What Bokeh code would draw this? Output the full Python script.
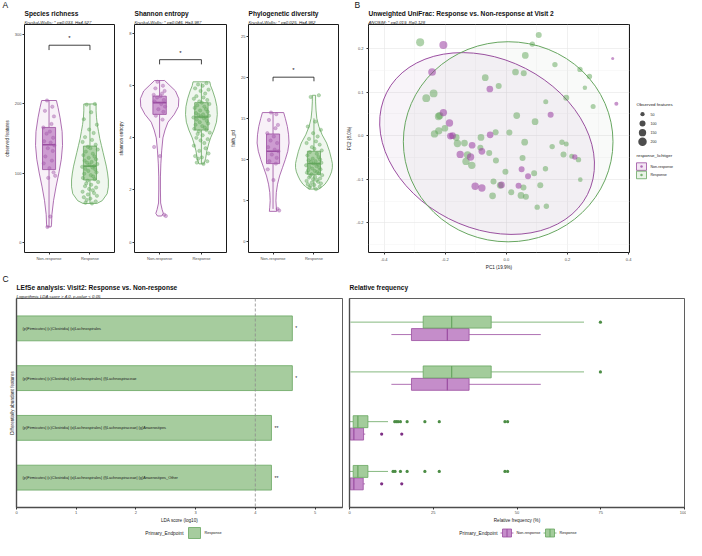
import numpy as np
from bokeh.plotting import figure
from bokeh.models import Range1d, FixedTicker, Title, Span, PrintfTickFormatter
from bokeh.layouts import row, column
from bokeh.embed import file_html
from bokeh.resources import INLINE
from bokeh.core.properties import value

FONT = "Liberation Sans"

# ---------------- Panel A data ----------------
groups = ["Non-response", "Response"]

sr_nr_pts = [205, 196, 190, 182, 171, 166, 160, 157, 151, 146, 144, 140, 136, 132, 124, 118, 114, 107, 101, 96, 93, 37, 22]
sr_r_pts = [200, 199, 188, 178, 170, 163, 158, 152, 148, 145, 141, 138, 136, 134, 131, 128, 126, 124, 122, 120,
            118, 116, 115, 113, 112, 110, 109, 108, 106, 105, 103, 101, 99, 97, 95, 93, 91, 89, 87, 85,
            83, 81, 79, 77, 75, 73, 71, 69, 67, 65, 63, 61, 59, 57, 56]
sr_box_nr = [22, 105, 141, 166, 205]      # low whisker, q1, median, q3, high whisker
sr_box_r = [56, 90, 110, 139, 200]
sr_vio_nr_y = [22, 25, 40, 60, 80, 100, 120, 140, 160, 180, 195, 205]
sr_vio_nr_w = [0.05, 0.06, 0.07, 0.11, 0.17, 0.24, 0.30, 0.33, 0.32, 0.27, 0.22, 0.18]
sr_vio_r_y = [56, 60, 70, 80, 90, 100, 110, 120, 130, 140, 150, 160, 170, 180, 190, 200]
sr_vio_r_w = [0.17, 0.30, 0.42, 0.45, 0.45, 0.43, 0.40, 0.36, 0.32, 0.28, 0.24, 0.21, 0.18, 0.16, 0.15, 0.15]
sr_bracket = [285, 7, 291]   # bracket level, tick drop, star level

sh_nr_pts = [6.15, 6.0, 5.9, 5.8, 5.7, 5.65, 5.6, 5.55, 5.45, 5.4, 5.3, 5.2, 5.1, 5.0, 4.85, 4.7, 3.65, 3.3, 1.05, 1.0]
sh_r_pts = [6.1, 6.05, 6.0, 5.9, 5.85, 5.8, 5.7, 5.6, 5.55, 5.5, 5.45, 5.4, 5.35, 5.3, 5.25, 5.2, 5.15, 5.1, 5.05, 5.0,
            4.95, 4.9, 4.88, 4.85, 4.82, 4.8, 4.78, 4.75, 4.7, 4.65, 4.6, 4.55, 4.5, 4.45, 4.4, 4.35, 4.3, 4.25, 4.2, 4.15,
            4.1, 4.0, 3.95, 3.9, 3.8, 3.7, 3.6, 3.5, 3.4, 3.3, 3.25, 3.2, 3.1, 3.05, 3.0]
sh_box_nr = [4.0, 4.9, 5.35, 5.6, 6.2]
sh_box_r = [3.0, 4.3, 4.8, 5.35, 6.1]
sh_vio_nr_y = [1.0, 1.1, 1.25, 1.5, 2.0, 2.5, 3.0, 3.5, 4.0, 4.3, 4.6, 4.9, 5.2, 5.5, 5.8, 6.0, 6.2]
sh_vio_nr_w = [0.05, 0.09, 0.06, 0.025, 0.02, 0.02, 0.03, 0.05, 0.08, 0.13, 0.2, 0.35, 0.45, 0.46, 0.38, 0.25, 0.12]
sh_vio_r_y = [3.0, 3.2, 3.5, 3.8, 4.0, 4.3, 4.6, 4.9, 5.2, 5.5, 5.8, 6.0, 6.15]
sh_vio_r_w = [0.06, 0.1, 0.13, 0.18, 0.22, 0.3, 0.36, 0.38, 0.37, 0.33, 0.27, 0.22, 0.2]
sh_bracket = [7.0, 0.18, 7.15]

pd_nr_pts = [15.7, 15.5, 14.8, 14.2, 13.8, 13.2, 12.8, 12.3, 12.0, 11.5, 11.2, 11.0, 10.6, 10.2, 9.8, 9.5, 8.8, 7.5, 4.0, 3.8]
pd_r_pts = [17.8, 17.6, 14.6, 14.0, 13.6, 13.2, 12.8, 12.5, 12.2, 12.0, 11.8, 11.5, 11.3, 11.1, 10.9, 10.7, 10.5, 10.3, 10.1, 10.0,
            9.9, 9.8, 9.7, 9.6, 9.5, 9.4, 9.3, 9.2, 9.1, 9.0, 8.9, 8.8, 8.7, 8.6, 8.5, 8.4, 8.3, 8.2, 8.1, 8.0,
            7.9, 7.8, 7.7, 7.6, 7.5, 7.4, 7.3, 7.2, 7.1, 7.0, 6.9, 6.8, 6.7, 6.6, 6.4]
pd_box_nr = [4.0, 9.5, 11.0, 13.1, 15.7]
pd_box_r = [6.4, 8.2, 9.5, 11.0, 15.0]
pd_vio_nr_y = [3.7, 4.2, 5.0, 6.0, 7.0, 8.0, 9.0, 10.0, 11.0, 12.0, 13.0, 14.0, 15.0, 15.7]
pd_vio_nr_w = [0.09, 0.08, 0.07, 0.08, 0.11, 0.16, 0.23, 0.3, 0.36, 0.39, 0.38, 0.35, 0.3, 0.26]
pd_vio_r_y = [6.4, 6.7, 7.0, 7.5, 8.0, 8.5, 9.0, 9.5, 10.0, 11.0, 12.0, 13.0, 14.0, 15.0, 16.0, 17.0, 17.8]
pd_vio_r_w = [0.12, 0.2, 0.27, 0.34, 0.39, 0.43, 0.45, 0.45, 0.43, 0.38, 0.31, 0.2, 0.12, 0.07, 0.05, 0.04, 0.04]
pd_bracket = [20.0, 0.5, 20.5]

jit_nr = [-0.05, 0.08, -0.10, 0.12, 0.06, -0.14, 0.02, -0.06, 0.10, -0.12, 0.04, 0.13, -0.03, 0.09, -0.09,
          0.07, -0.13, 0.01, 0.11, 0.15, -0.02, 0.03, -0.04]
jit_r = [0.12, -0.08, 0.03, -0.15, 0.17, -0.02, 0.09, -0.12, 0.05, -0.18, 0.14, -0.05, 0.01, 0.19, -0.10,
         0.07, -0.16, 0.11, -0.03, 0.15, -0.13, 0.04, -0.07, 0.18, -0.01, 0.10, -0.19, 0.06, -0.11, 0.13,
         -0.04, 0.16, -0.14, 0.02, 0.08, -0.17, 0.12, -0.06, 0.20, -0.09, 0.03, -0.12, 0.15, -0.02, 0.07,
         -0.18, 0.10, -0.05, 0.17, -0.15, 0.01, -0.08, 0.14, -0.11, 0.05]

# ---------------- Panel B data ----------------
b_nr_pc1 = [-0.206, 0.348, -0.243, -0.054, 0.360, -0.206, -0.186, 0.145, -0.183, -0.176, -0.053, -0.112,
            -0.080, -0.151, -0.117, 0.224, 0.050, 0.071, -0.102, -0.080, -0.016, 0.040]
b_nr_pc2 = [0.208, 0.177, 0.146, 0.107, 0.073, 0.053, 0.029, 0.048, -0.001, 0.000, 0.002, -0.022,
            -0.036, -0.043, -0.049, -0.049, -0.077, -0.093, -0.116, -0.120, -0.113, -0.115]
b_nr_obs = [180, 25, 165, 125, 45, 150, 150, 100, 125, 125, 125, 125,
            125, 150, 150, 80, 100, 100, 150, 150, 125, 100]
b_r_pc1 = [-0.282, 0.085, 0.106, 0.062, 0.159, 0.030, 0.057, 0.241, 0.272, -0.069, -0.025, 0.257, -0.238,
           -0.262, 0.196, 0.129, 0.284, -0.218, -0.222, 0.034, 0.094, -0.235, -0.221, -0.201, -0.164, -0.035,
           0.010, -0.083, -0.160, -0.137, 0.060, 0.182, 0.196, 0.150, -0.085, -0.056, -0.127, 0.187, 0.214,
           0.236, -0.034, 0.053, -0.132, -0.113, -0.003, 0.091, 0.128, -0.042, -0.020, 0.056, 0.111, 0.242,
           -0.045, 0.016, 0.048, 0.064, 0.101, 0.131]
b_r_pc2 = [0.214, 0.210, 0.231, 0.184, 0.163, 0.146, 0.143, 0.152, 0.136, 0.133, 0.114, 0.110, 0.097,
           0.086, 0.087, 0.078, 0.067, 0.046, 0.044, 0.046, 0.032, 0.004, 0.011, 0.017, -0.004, 0.008,
           0.007, -0.004, -0.018, -0.017, -0.015, -0.015, -0.019, -0.025, -0.028, -0.040, -0.044, -0.043, -0.047,
           -0.055, -0.057, -0.051, -0.059, -0.068, -0.083, -0.086, -0.076, -0.105, -0.114, -0.119, -0.114, -0.101,
           -0.138, -0.130, -0.137, -0.140, -0.164, -0.162]
b_r_obs = [180, 80, 100, 125, 80, 125, 100, 80, 80, 125, 100, 55, 170,
           170, 100, 70, 70, 150, 150, 125, 125, 150, 150, 125, 125, 100,
           100, 125, 150, 125, 125, 80, 70, 80, 100, 100, 150, 100, 70,
           80, 100, 100, 150, 150, 100, 100, 80, 100, 125, 100, 100, 60,
           125, 100, 125, 100, 80, 80]
ell_x = [-0.063, 0.006]
ell_y = [-0.018, -0.014]
ell_w = [0.737, 0.686]
ell_h = [0.387, 0.459]
ell_angle = [-27, 0]
size_legend_vals = [50, 100, 150, 200]

# ---------------- Panel C data ----------------
features = ["(p)Firmicutes| (c)Clostridia| (o)Lachnospirales",
            "(p)Firmicutes| (c)Clostridia| (o)Lachnospirales| (f)Lachnospiraceae",
            "(p)Firmicutes| (c)Clostridia| (o)Lachnospirales| (f)Lachnospiraceae| (g)Anaerostipes",
            "(p)Firmicutes| (c)Clostridia| (o)Lachnospirales| (f)Lachnospiraceae| (g)Anaerostipes_Other"]
lda_scores = [4.62, 4.62, 4.27, 4.27]
lda_stars = ["*", "*", "**", "**"]

rf_group = ["Response", "Non-response"] * 4
rf_feature = [1, 1, 2, 2, 3, 3, 4, 4]
rf_lo = [0.3, 12.5, 0.3, 12.5, 0.0, 0.0, 0.0, 0.0]
rf_q1 = [22.0, 18.5, 22.0, 18.5, 1.1, 0.2, 1.1, 0.2]
rf_med = [30.5, 29.2, 30.5, 29.2, 2.5, 1.3, 2.5, 1.3]
rf_q3 = [42.3, 35.7, 42.3, 35.7, 5.5, 4.2, 5.5, 4.1]
rf_hi = [70.0, 57.1, 70.0, 57.1, 11.5, 4.7, 11.5, 4.6]
out_feature = [1, 2, 3, 3, 3, 3, 3, 3, 3, 3, 3, 3, 3, 4, 4, 4, 4, 4, 4, 4, 4, 4, 4]
out_group = ["Response", "Response"] + ["Response"] * 9 + ["Non-response"] * 2 + ["Response"] * 8 + ["Non-response"] * 2
out_val = [74.9, 74.9, 13.5, 14.0, 14.5, 15.2, 17.2, 22.5, 26.8, 46.4, 47.2, 9.6, 15.6,
           13.0, 13.6, 15.2, 17.2, 22.5, 26.8, 46.4, 47.2, 9.6, 15.6]

# ---------------- style ----------------
NR_LINE, NR_BOX, NR_VFILL, NR_PT, NR_DARK = "#9a4ca0", "#c58dca", "#f8f1f8", "#a45aaa", "#7e2f85"
R_LINE, R_BOX, R_VFILL, R_PT, R_DARK = "#67a660", "#a3cc9b", "#f0f7ef", "#62a85a", "#4c8d45"
H_TOP, TOP_B, BOT_B = 272, 24, 17
H_BOT, TOP_C, BOT_C = 253, 26, 17
H_LEG = 15


def make_fig(w, h, xr, yr, left, right, top, bottom):
    p = figure(width=w, height=h, x_range=xr, y_range=yr, output_backend="svg", toolbar_location=None,
               title=None, min_border_left=left, min_border_right=right, min_border_top=top,
               min_border_bottom=bottom)
    p.outline_line_color = "#1a1a1a"
    p.outline_line_width = 1
    p.xgrid.visible = False
    p.ygrid.visible = False
    for ax in (p.xaxis[0], p.yaxis[0]):
        ax.axis_line_color = None
        ax.major_tick_line_color = "#333333"
        ax.major_tick_out = 2
        ax.major_tick_in = 0
        ax.minor_tick_line_color = None
        ax.major_label_text_font = FONT
        ax.major_label_text_font_size = "4px"
        ax.major_label_text_color = "#4d4d4d"
        ax.major_label_standoff = 1
        ax.axis_label_text_font = FONT
        ax.axis_label_text_font_size = "4.6px"
        ax.axis_label_text_font_style = "normal"
        ax.axis_label_text_color = "#1a1a1a"
        ax.axis_label_standoff = 2
    return p


def add_titles(p, letter, letter_dx, title, subtitle):
    # stacked above the frame: subtitle (closest), title, panel letter (outermost)
    p.add_layout(Title(text=subtitle if subtitle else " ", align="left", standoff=0, text_font=FONT,
                       text_font_size="4.3px", text_font_style="italic", text_color="#222222"), "above")
    p.add_layout(Title(text=title, align="left", standoff=1.5, text_font=FONT, text_font_size="6.6px",
                       text_font_style="bold", text_color="#111111"), "above")
    if letter:
        p.add_layout(Title(text=letter, align="left", standoff=-6, offset=letter_dx, text_font=FONT,
                           text_font_size="8.5px", text_font_style="normal", text_color="#111111"), "above")


def violin_panel(w, left, ylim, yticks, ylabel, title, subtitle, letter, nr, r, bracket):
    p = make_fig(w, H_TOP, Range1d(0.4, 2.6), Range1d(*ylim), left, 2, TOP_B, BOT_B)
    p.xaxis.ticker = FixedTicker(ticks=[1, 2])
    p.xaxis.major_label_overrides = {1: groups[0], 2: groups[1]}
    p.yaxis.ticker = FixedTicker(ticks=yticks)
    p.yaxis.axis_label = ylabel
    specs = [(1, nr, jit_nr, NR_LINE, NR_BOX, NR_VFILL, NR_PT), (2, r, jit_r, R_LINE, R_BOX, R_VFILL, R_PT)]
    for pos, (vy, vw, box, pts), jit, lc, bc, vf, pc in specs:
        vy = np.array(vy, float)
        vw = np.array(vw, float)
        xs = np.concatenate([pos - vw, (pos + vw)[::-1]])
        ys = np.concatenate([vy, vy[::-1]])
        p.patch(xs, ys, fill_color=vf, fill_alpha=1, line_color=lc, line_width=0.8)
        lo, q1, med, q3, hi = box
        p.segment(x0=[pos, pos], y0=[lo, q3], x1=[pos, pos], y1=[q1, hi], line_color=lc, line_width=0.8)
        p.quad(left=[pos - 0.16], right=[pos + 0.16], bottom=[q1], top=[q3], fill_color=bc, fill_alpha=0.85,
               line_color=lc, line_width=0.8)
        p.segment(x0=[pos - 0.16], x1=[pos + 0.16], y0=[med], y1=[med], line_color=lc, line_width=1.6)
        p.scatter(x=pos + np.array(jit[:len(pts)]), y=pts, size=3.4, fill_color=pc, fill_alpha=0.45,
                  line_color=pc, line_alpha=0.6, line_width=0.5)
    lev, drop, star = bracket
    p.line(x=[1, 1, 2, 2], y=[lev - drop, lev, lev, lev - drop], line_color="#111111", line_width=0.8)
    p.text(x=[1.5], y=[star], text=["*"], text_font=value(FONT), text_font_size="6px", text_align="center",
           text_baseline="bottom", text_color="#111111")
    add_titles(p, letter, -(left - 2), title, subtitle)
    return p


pA1 = violin_panel(116, 24, (-15, 315), [0, 100, 200, 300], "observed features", "Species richness",
                   "Kruskal-Wallis: * p=0.033, H=4.527", "A",
                   (sr_vio_nr_y, sr_vio_nr_w, sr_box_nr, sr_nr_pts), (sr_vio_r_y, sr_vio_r_w, sr_box_r, sr_r_pts),
                   sr_bracket)
pA2 = violin_panel(112, 16, (-0.4, 8.35), [0, 2, 4, 6, 8], "shannon entropy", "Shannon entropy",
                   "Kruskal-Wallis: * p=0.046, H=3.987", None,
                   (sh_vio_nr_y, sh_vio_nr_w, sh_box_nr, sh_nr_pts), (sh_vio_r_y, sh_vio_r_w, sh_box_r, sh_r_pts),
                   sh_bracket)
pA3 = violin_panel(112, 17, (-1.3, 26.4), [0, 5, 10, 15, 20, 25], "faith_pd", "Phylogenetic diversity",
                   "Kruskal-Wallis: * p=0.025, H=4.982", None,
                   (pd_vio_nr_y, pd_vio_nr_w, pd_box_nr, pd_nr_pts), (pd_vio_r_y, pd_vio_r_w, pd_box_r, pd_r_pts),
                   pd_bracket)

# ---------------- Panel B ----------------
pB = make_fig(292, H_TOP, Range1d(-0.451, 0.403), Range1d(-0.268, 0.255), 28, 3, TOP_B, BOT_B)
xt = FixedTicker(ticks=[-0.4, -0.2, 0.0, 0.2, 0.4], minor_ticks=[-0.3, -0.1, 0.1, 0.3])
yt = FixedTicker(ticks=[-0.2, -0.1, 0.0, 0.1, 0.2], minor_ticks=[-0.25, -0.15, -0.05, 0.05, 0.15, 0.25])
pB.xaxis.ticker = xt
pB.yaxis.ticker = yt
pB.xgrid.ticker = xt
pB.ygrid.ticker = yt
pB.xaxis.formatter = PrintfTickFormatter(format="%.1f")
pB.yaxis.formatter = PrintfTickFormatter(format="%.1f")
for g in (pB.xgrid[0], pB.ygrid[0]):
    g.visible = True
    g.grid_line_color = "#e6e6e6"
    g.grid_line_width = 0.6
    g.minor_grid_line_color = "#f2f2f2"
    g.minor_grid_line_width = 0.5
pB.xaxis.axis_label = "PC1 (19.9%)"
pB.yaxis.axis_label = "PC2 (8.0%)"
pB.xaxis.axis_label_standoff = 1
pB.ellipse(x=ell_x[:1], y=ell_y[:1], width=ell_w[:1], height=ell_h[:1], angle=ell_angle[:1], angle_units="deg",
           fill_color="#9a6aa8", fill_alpha=0.07, line_color=NR_LINE, line_width=1)
pB.ellipse(x=ell_x[1:], y=ell_y[1:], width=ell_w[1:], height=ell_h[1:], angle=ell_angle[1:], angle_units="deg",
           fill_color="#8a9f8a", fill_alpha=0.05, line_color=R_LINE, line_width=1)
pB.scatter(x=b_r_pc1, y=b_r_pc2, size=0.6 * np.sqrt(b_r_obs), fill_color="#5fa657", fill_alpha=0.5, line_color=None)
pB.scatter(x=b_nr_pc1, y=b_nr_pc2, size=0.6 * np.sqrt(b_nr_obs), fill_color="#993da1", fill_alpha=0.55,
           line_color=None)
add_titles(pB, "B", -14, "Unweighted UniFrac: Response vs. Non-response at Visit 2",
           "ANOSIM: * p=0.019, R=0.128")


def blank_fig(w, h):
    p = figure(width=w, height=h, x_range=Range1d(0, w), y_range=Range1d(h, 0), x_axis_type=None,
               y_axis_type=None, output_backend="svg", toolbar_location=None, min_border=0)
    p.grid.visible = False
    p.outline_line_color = None
    return p


def txt(p, x, y, s, size, align="left", style="normal", color="#1a1a1a"):
    p.text(x=[x], y=[y], text=[s], text_font=value(FONT), text_font_size=size, text_align=align,
           text_baseline="middle", text_font_style=style, text_color=color)


pL = blank_fig(54, H_TOP)
txt(pL, 4, 96, "Observed features", "4.4px")
for i, v in enumerate(size_legend_vals):
    pL.scatter(x=[10], y=[107 + 11 * i], size=0.6 * np.sqrt(v), fill_color="#4d4d4d", line_color=None)
    txt(pL, 18, 107 + 11 * i, str(v), "3.6px")
txt(pL, 4, 156, "response_lichtiger", "4.4px")
for i, (g, lc, fc, pc) in enumerate([(groups[0], NR_LINE, "#f3e6f4", "#b06bb5"), (groups[1], R_LINE, "#e9f3e7", "#78b271")]):
    yc = 169.5 + 10 * i
    pL.quad(left=[4], right=[14], top=[yc - 4.5], bottom=[yc + 4.5], fill_color=fc, line_color=lc, line_width=0.8)
    pL.scatter(x=[9], y=[yc], size=2.5, fill_color=pc, line_color=None)
    txt(pL, 18, yc, g, "3.6px")

# ---------------- Panel C left: LEfSe ----------------
fidx = list(range(1, len(features) + 1))
pC1 = make_fig(345, H_BOT, Range1d(0, 5.46), Range1d(4.6, 0.4), 16, 3, TOP_C, BOT_C)
pC1.outline_line_width = 0.7
pC1.xaxis.ticker = FixedTicker(ticks=[0, 1, 2, 3, 4, 5])
pC1.yaxis.ticker = FixedTicker(ticks=[])
for ax in (pC1.xaxis[0], pC1.yaxis[0]):
    ax.axis_line_color = "#4d4d4d"
    ax.axis_line_width = 1.4
pC1.xaxis.axis_label = "LDA score (log10)"
pC1.yaxis.axis_label = "Differentially abundant features"
pC1.xaxis.axis_label_standoff = 1
pC1.hbar(y=fidx, left=0, right=lda_scores, height=0.5, fill_color="#a6cc9e", line_color=R_LINE, line_width=0.8)
pC1.add_layout(Span(location=4, dimension="height", line_color="#8c8c8c", line_dash="3 2", line_width=0.8))
pC1.text(x=0, y=fidx, text=features, x_offset=6, text_font=value(FONT), text_font_size="3.9px",
         text_baseline="middle", text_color="#1a1a1a")
pC1.text(x=lda_scores, y=fidx, text=lda_stars, x_offset=3, text_font=value(FONT), text_font_size="5px",
         text_baseline="middle", text_color="#1a1a1a")
add_titles(pC1, "C", -14, "LEfSe analysis: Visit2: Response vs. Non-response",
           "Logarithmic LDA score > 4.0, p-value < 0.05")

# ---------------- Panel C right: relative frequency ----------------
pC2 = make_fig(341, H_BOT, Range1d(0, 100), Range1d(4.6, 0.4), 4, 2, TOP_C, BOT_C)
pC2.outline_line_width = 0.7
pC2.xaxis.ticker = FixedTicker(ticks=[0, 25, 50, 75, 100])
pC2.yaxis.ticker = FixedTicker(ticks=[])
for ax in (pC2.xaxis[0], pC2.yaxis[0]):
    ax.axis_line_color = "#4d4d4d"
    ax.axis_line_width = 1.4
pC2.xaxis.axis_label = "Relative frequency (%)"
pC2.xaxis.axis_label_standoff = 1
dodge = {"Response": -0.125, "Non-response": 0.125}
cols = {"Response": (R_LINE, R_BOX, R_DARK), "Non-response": (NR_LINE, NR_BOX, NR_DARK)}
for g in groups:
    sel = [i for i, gg in enumerate(rf_group) if gg == g]
    yy = [rf_feature[i] + dodge[g] for i in sel]
    lc, bc, dc = cols[g]
    pC2.segment(x0=[rf_lo[i] for i in sel], x1=[rf_q1[i] for i in sel], y0=yy, y1=yy, line_color=lc, line_width=0.8)
    pC2.segment(x0=[rf_q3[i] for i in sel], x1=[rf_hi[i] for i in sel], y0=yy, y1=yy, line_color=lc, line_width=0.8)
    pC2.hbar(y=yy, left=[rf_q1[i] for i in sel], right=[rf_q3[i] for i in sel], height=0.24,
             fill_color=bc, line_color=lc, line_width=0.8)
    pC2.segment(x0=[rf_med[i] for i in sel], x1=[rf_med[i] for i in sel], y0=[v - 0.12 for v in yy],
                y1=[v + 0.12 for v in yy], line_color=lc, line_width=1.2)
    osel = [i for i, gg in enumerate(out_group) if gg == g]
    pC2.scatter(x=[out_val[i] for i in osel], y=[out_feature[i] + dodge[g] for i in osel], size=3.2,
                fill_color=dc, line_color=None)
add_titles(pC2, None, 0, "Relative frequency", None)

# ---------------- bottom legends ----------------
pLC1 = blank_fig(345, H_LEG)
txt(pLC1, 183, 7.5, "Primary_Endpoint", "4.8px", align="right")
pLC1.quad(left=[188], right=[200], top=[2], bottom=[13], fill_color="#a6cc9e", line_color=R_LINE, line_width=0.8)
txt(pLC1, 204, 7.5, "Response", "3.8px")

pLC2 = blank_fig(341, H_LEG)
txt(pLC2, 152, 7.5, "Primary_Endpoint", "4.8px", align="right")
for x0, g in [(155, groups[0]), (198, groups[1])]:
    lc, bc, dc = cols[g]
    pLC2.segment(x0=[x0], x1=[x0 + 13], y0=[7.5], y1=[7.5], line_color=lc, line_width=0.8)
    pLC2.quad(left=[x0 + 2], right=[x0 + 11], top=[3.5], bottom=[11.5], fill_color=bc, line_color=lc, line_width=0.8)
    pLC2.segment(x0=[x0 + 6.5], x1=[x0 + 6.5], y0=[3.5], y1=[11.5], line_color=lc, line_width=1)
    txt(pLC2, x0 + 16, 7.5, g, "3.8px")

layout = column(row(pA1, pA2, pA3, pB, pL), row(pC1, pC2), row(pLC1, pLC2))
open("out.html", "w").write(file_html(layout, INLINE))
